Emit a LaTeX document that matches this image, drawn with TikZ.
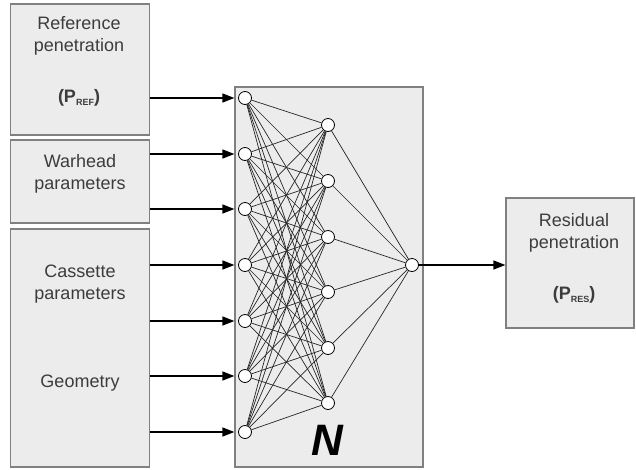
\documentclass[tikz,border=0pt]{standalone}
\usepackage{fontspec}
\setmainfont{Liberation Sans}
\usetikzlibrary{positioning,arrows.meta}
\definecolor{boxline}{RGB}{128,128,128}
\definecolor{boxfill}{RGB}{236,236,236}
\definecolor{ink}{RGB}{60,60,60}
\newcommand{\sub}[1]{\raisebox{-3pt}{\fontsize{9}{9}\selectfont #1}}

\begin{document}
\begin{tikzpicture}[x=1pt,y=-1pt]
\tikzset{
    box/.style = {draw=boxline, fill=boxfill, line width=1.2pt, rectangle, inner sep=0pt},
    txt/.style = {align=center, text=ink, inner sep=0pt, font=\fontsize{18}{22}\selectfont},
    neuron/.style = {draw, circle, fill=white, line width=0.8pt, minimum size=13pt, inner sep=0pt},
    wire/.style = {line width=0.7pt, black!85},
    feed/.style = {->, line width=1.3pt},
    every path/.style = {>={Triangle[length=12pt,width=9pt]}}
}
\useasboundingbox (0,0) rectangle (636,469);

% -------------------------------------------------------
\node[box, minimum width=139pt, minimum height=131pt] (ref) at (80,69.5) {};
\node[box, minimum width=139pt, minimum height=83pt] (war) at (80,181.5) {};
\node[box, minimum width=139pt, minimum height=238pt] (cas) at (80,348) {};
\node[box, minimum width=188pt, minimum height=380pt] (net) at (329,277) {};
\node[box, minimum width=128pt, minimum height=130pt] (res) at (570,263) {};

\node[txt] (refT) at (79,36) {Reference\\penetration};
\node[txt] (refP) at (79,98) {\textbf{(P\sub{REF})}};
\node[txt] (warT) at (80,173.5) {Warhead\\parameters};
\node[txt] (casT) at (80,284.5) {Cassette\\parameters};
\node[txt] (geoT) at (80,383) {Geometry};
\node[txt] (resT) at (574,233) {Residual\\penetration};
\node[txt] (resP) at (574,295) {\textbf{(P\sub{RES})}};

\node[inner sep=0pt, font=\fontsize{44}{44}\selectfont\bfseries\itshape] (N) at (327,440) {N};

% -------------------------------------------------------
\foreach \y [count=\i] in {98,154,209,265,321,376,432}
    \node[neuron] (i\i) at (245,\y) {};
\foreach \y [count=\j] in {125,181,237,292,348,403}
    \node[neuron] (h\j) at (328,\y) {};
\node[neuron] (o) at (412,265) {};

% -------------------------------------------------------
\foreach \i in {1,...,7}
    \foreach \j in {1,...,6}
        \path[wire] (i\i) edge (h\j);
\foreach \j in {1,...,6}
    \path[wire] (h\j) edge (o);

\foreach \i/\src in {1/ref,2/war,3/war,4/cas,5/cas,6/cas,7/cas}
    \draw[feed] (\src.east |- i\i) -- (net.west |- i\i);
\draw[feed] (o) -- (res.west |- o);
\end{tikzpicture}
\end{document}
